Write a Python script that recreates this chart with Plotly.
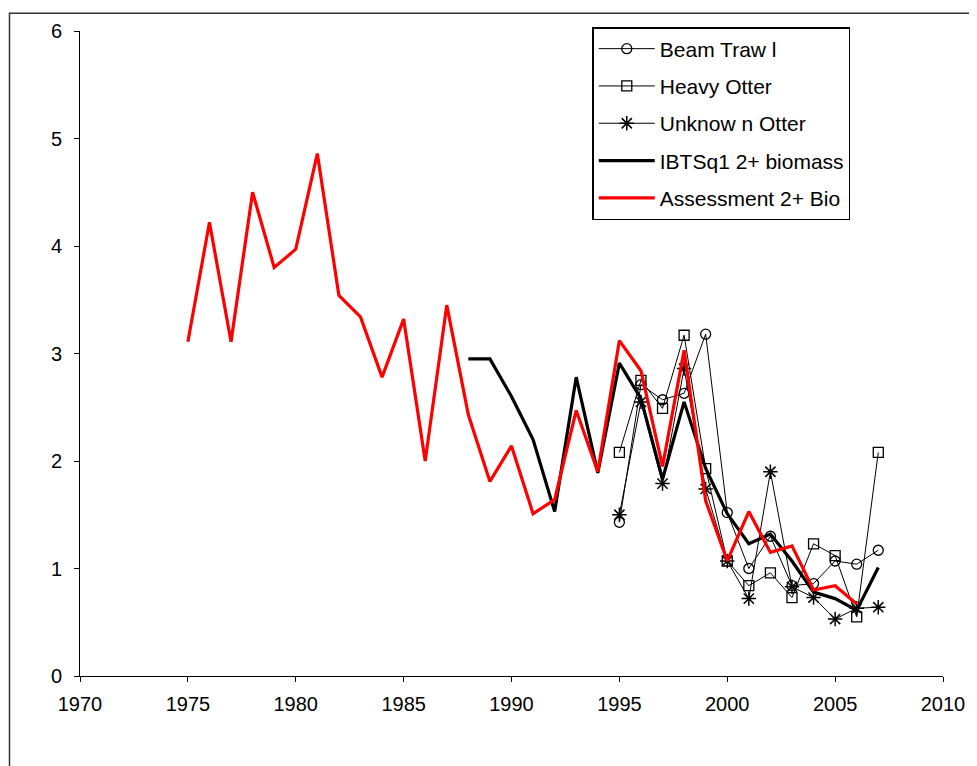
import plotly.graph_objects as go

years_assess = list(range(1975, 2007))
assessment = [3.11, 4.22, 3.11, 4.50, 3.80, 3.97, 4.86, 3.54, 3.34, 2.78,
              3.32, 2.00, 3.45, 2.43, 1.81, 2.14, 1.51, 1.64, 2.47, 1.90,
              3.12, 2.84, 1.95, 3.03, 1.63, 1.07, 1.53, 1.15, 1.21, 0.80,
              0.84, 0.67]

years_ibts = list(range(1988, 2008))
ibts = [2.95, 2.95, 2.60, 2.20, 1.53, 2.78, 1.89, 2.91, 2.58, 1.83,
        2.55, 1.93, 1.51, 1.23, 1.32, 1.07, 0.78, 0.72, 0.61, 1.01]

years_survey = list(range(1995, 2008))
beam_trawl = [1.43, 2.71, 2.57, 2.63, 3.18, 1.52, 1.00, 1.30, 0.84, 0.86, 1.07, 1.04, 1.17]
heavy_otter = [2.08, 2.75, 2.49, 3.17, 1.93, 1.07, 0.84, 0.96, 0.73, 1.23, 1.12, 0.55, 2.08]
unknown_otter = [1.50, 2.55, 1.79, 2.86, 1.74, 1.07, 0.72, 1.90, 0.83, 0.73, 0.53, 0.63, 0.64]

x_ticks = list(range(1970, 2011, 5))
y_ticks = list(range(0, 7))

fig = go.Figure()
thin = dict(color="black", width=1)
fig.add_trace(go.Scatter(x=years_survey, y=beam_trawl, name="Beam Traw l", mode="lines+markers",
                         line=thin, legendgroup="a",
                         marker=dict(symbol="circle-open", size=10, color="black", line=dict(width=1.3))))
fig.add_trace(go.Scatter(x=years_survey, y=heavy_otter, name="Heavy Otter", mode="lines+markers",
                         line=thin, legendgroup="b",
                         marker=dict(symbol="square-open", size=10, color="black", line=dict(width=1.3))))
fig.add_trace(go.Scatter(x=years_survey, y=unknown_otter, name="Unknow n Otter", mode="lines+markers",
                         line=thin, legendgroup="c",
                         marker=dict(symbol="asterisk-open", size=12, color="black", line=dict(width=1.5))))
fig.add_trace(go.Scatter(x=years_ibts, y=ibts, name="IBTSq1 2+ biomass", mode="lines",
                         line=dict(color="black", width=3.2), legendgroup="d"))
fig.add_trace(go.Scatter(x=years_assess, y=assessment, name="Assessment 2+ Bio", mode="lines",
                         line=dict(color="#ff0000", width=3.2), legendgroup="e"))

font = "Liberation Sans, Arial, sans-serif"
fig.update_layout(
    width=969, height=758,
    margin=dict(l=72, r=28, t=19, b=90),
    paper_bgcolor="white", plot_bgcolor="white",
    font=dict(family=font, size=20, color="black"),
    showlegend=True,
    legend=dict(x=0.5936, y=1.0062, xanchor="left", yanchor="top",
                bordercolor="black", borderwidth=1.5, bgcolor="white",
                traceorder="grouped", tracegroupgap=7, itemwidth=56,
                font=dict(family=font, size=21, color="black")),
    xaxis=dict(range=[1970, 2010], tickvals=x_ticks, ticktext=[str(v) for v in x_ticks],
               showgrid=False, zeroline=False, showline=True, linecolor="black", linewidth=1,
               ticks="outside", ticklen=5, tickcolor="black", tickfont=dict(size=20),
               ticklabelstandoff=5),
    yaxis=dict(range=[0, 6], tickvals=y_ticks, showgrid=False, zeroline=False,
               showline=True, linecolor="black", linewidth=1,
               ticks="outside", ticklen=5, tickcolor="black", tickfont=dict(size=20),
               ticklabelstandoff=8),
    shapes=[dict(type="rect", xref="paper", yref="paper",
                 x0=-0.0817, x1=1.2, y0=-0.3, y1=1.0277,
                 line=dict(color="#333333", width=1.5), fillcolor="rgba(0,0,0,0)", layer="below")],
)

fig.write_html("out.html")
